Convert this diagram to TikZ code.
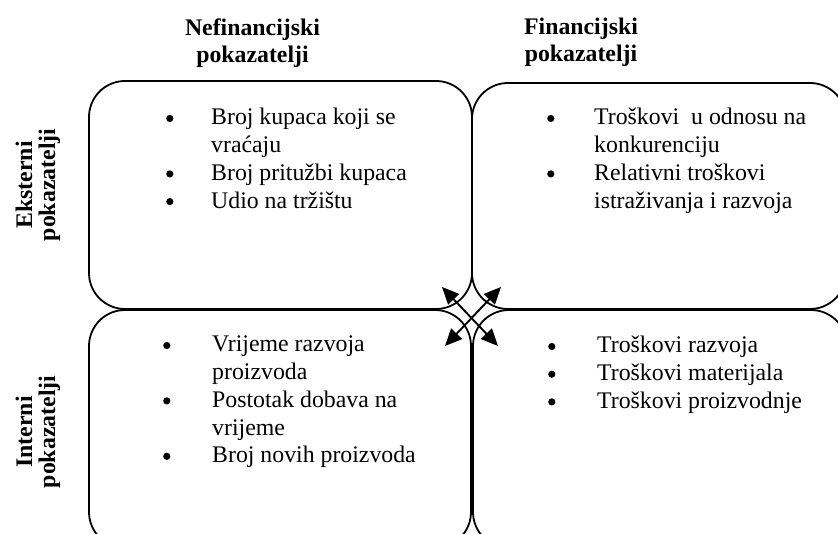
\documentclass[tikz,border=0pt]{standalone}
\usepackage{fontspec}
\setmainfont{Liberation Serif}
\usetikzlibrary{arrows.meta}
\newcommand\myBody{\fontsize{23.8}{27.7}\selectfont}
\newcommand\myHead{\fontsize{23.8}{26.5}\selectfont\bfseries}
\newcommand\mySide{\fontsize{23.8}{22}\selectfont\bfseries}
\newcommand\myBul{\tikz[baseline={(0pt,-6.5pt)}, x=1pt, y=1pt]\fill (3.6,0) circle (3.6pt);}
\begin{document}
\begin{tikzpicture}[x=1pt,y=-1pt,
  box/.style={draw, line width=1.8pt, rounded corners=36pt, inner sep=0pt, rectangle},
  lst/.style={anchor=base west, inner sep=0pt, font=\myBody},
  hdr/.style={anchor=base, inner sep=0pt, font=\myHead},
  side/.style={anchor=base, inner sep=0pt, font=\mySide, rotate=90},
  dbl/.style={line width=1.9pt, {Triangle[length=17pt,width=15pt]}-{Triangle[length=17pt,width=15pt]}}]
\useasboundingbox (0,0) rectangle (838,534);
\clip (0,0) rectangle (838,534);
\fill[white] (0,0) rectangle (838,534);

% boxes
\node[box, minimum width=383pt, minimum height=228pt] (tl) at (280.5,195) {};
\node[box, minimum width=374pt, minimum height=226pt] (tr) at (659,196) {};
\node[box, minimum width=382pt, minimum height=238pt] (bl) at (280,429) {};
\node[box, minimum width=374pt, minimum height=238pt] (br) at (660,429) {};

% headers
\node[hdr] (h1) at (252.5,36) {\begin{tabular}[t]{@{}c@{}}Nefinancijski\\pokazatelji\end{tabular}};
\node[hdr] (h2) at (581,35) {\begin{tabular}[t]{@{}c@{}}Financijski\\pokazatelji\end{tabular}};

% side labels
\node[side] (s1) at (32,185) {\begin{tabular}[t]{@{}c@{}}Eksterni\\pokazatelji\end{tabular}};
\node[side] (s2) at (32,432) {\begin{tabular}[t]{@{}c@{}}Interni\\pokazatelji\end{tabular}};

% lists
\node[lst] (l1) at (166,125) {\begin{tabular}[t]{@{}p{45pt}@{}l@{}}
\myBul & Broj kupaca koji se\\
 & vraćaju\\
\myBul & Broj pritužbi kupaca\\
\myBul & Udio na tržištu
\end{tabular}};
\node[lst] (l2) at (547,125) {\begin{tabular}[t]{@{}p{47pt}@{}l@{}}
\myBul & Troškovi~ u odnosu na\\
 & konkurenciju\\
\myBul & Relativni troškovi\\
 & istraživanja i razvoja
\end{tabular}};
\node[lst] (l3) at (163,352) {\begin{tabular}[t]{@{}p{49pt}@{}l@{}}
\myBul & Vrijeme razvoja\\
 & proizvoda\\
\myBul & Postotak dobava na\\
 & vrijeme\\
\myBul & Broj novih proizvoda
\end{tabular}};
\node[lst] (l4) at (548,353) {\begin{tabular}[t]{@{}p{49pt}@{}l@{}}
\myBul & Troškovi razvoja\\
\myBul & Troškovi materijala\\
\myBul & Troškovi proizvodnje
\end{tabular}};

% central arrows
\coordinate (p1) at (442,287);
\coordinate (p2) at (498,346);
\coordinate (p3) at (501,287);
\coordinate (p4) at (445,346);
\draw[dbl] (p1) -- (p2);
\draw[dbl] (p3) -- (p4);
\end{tikzpicture}
\end{document}
